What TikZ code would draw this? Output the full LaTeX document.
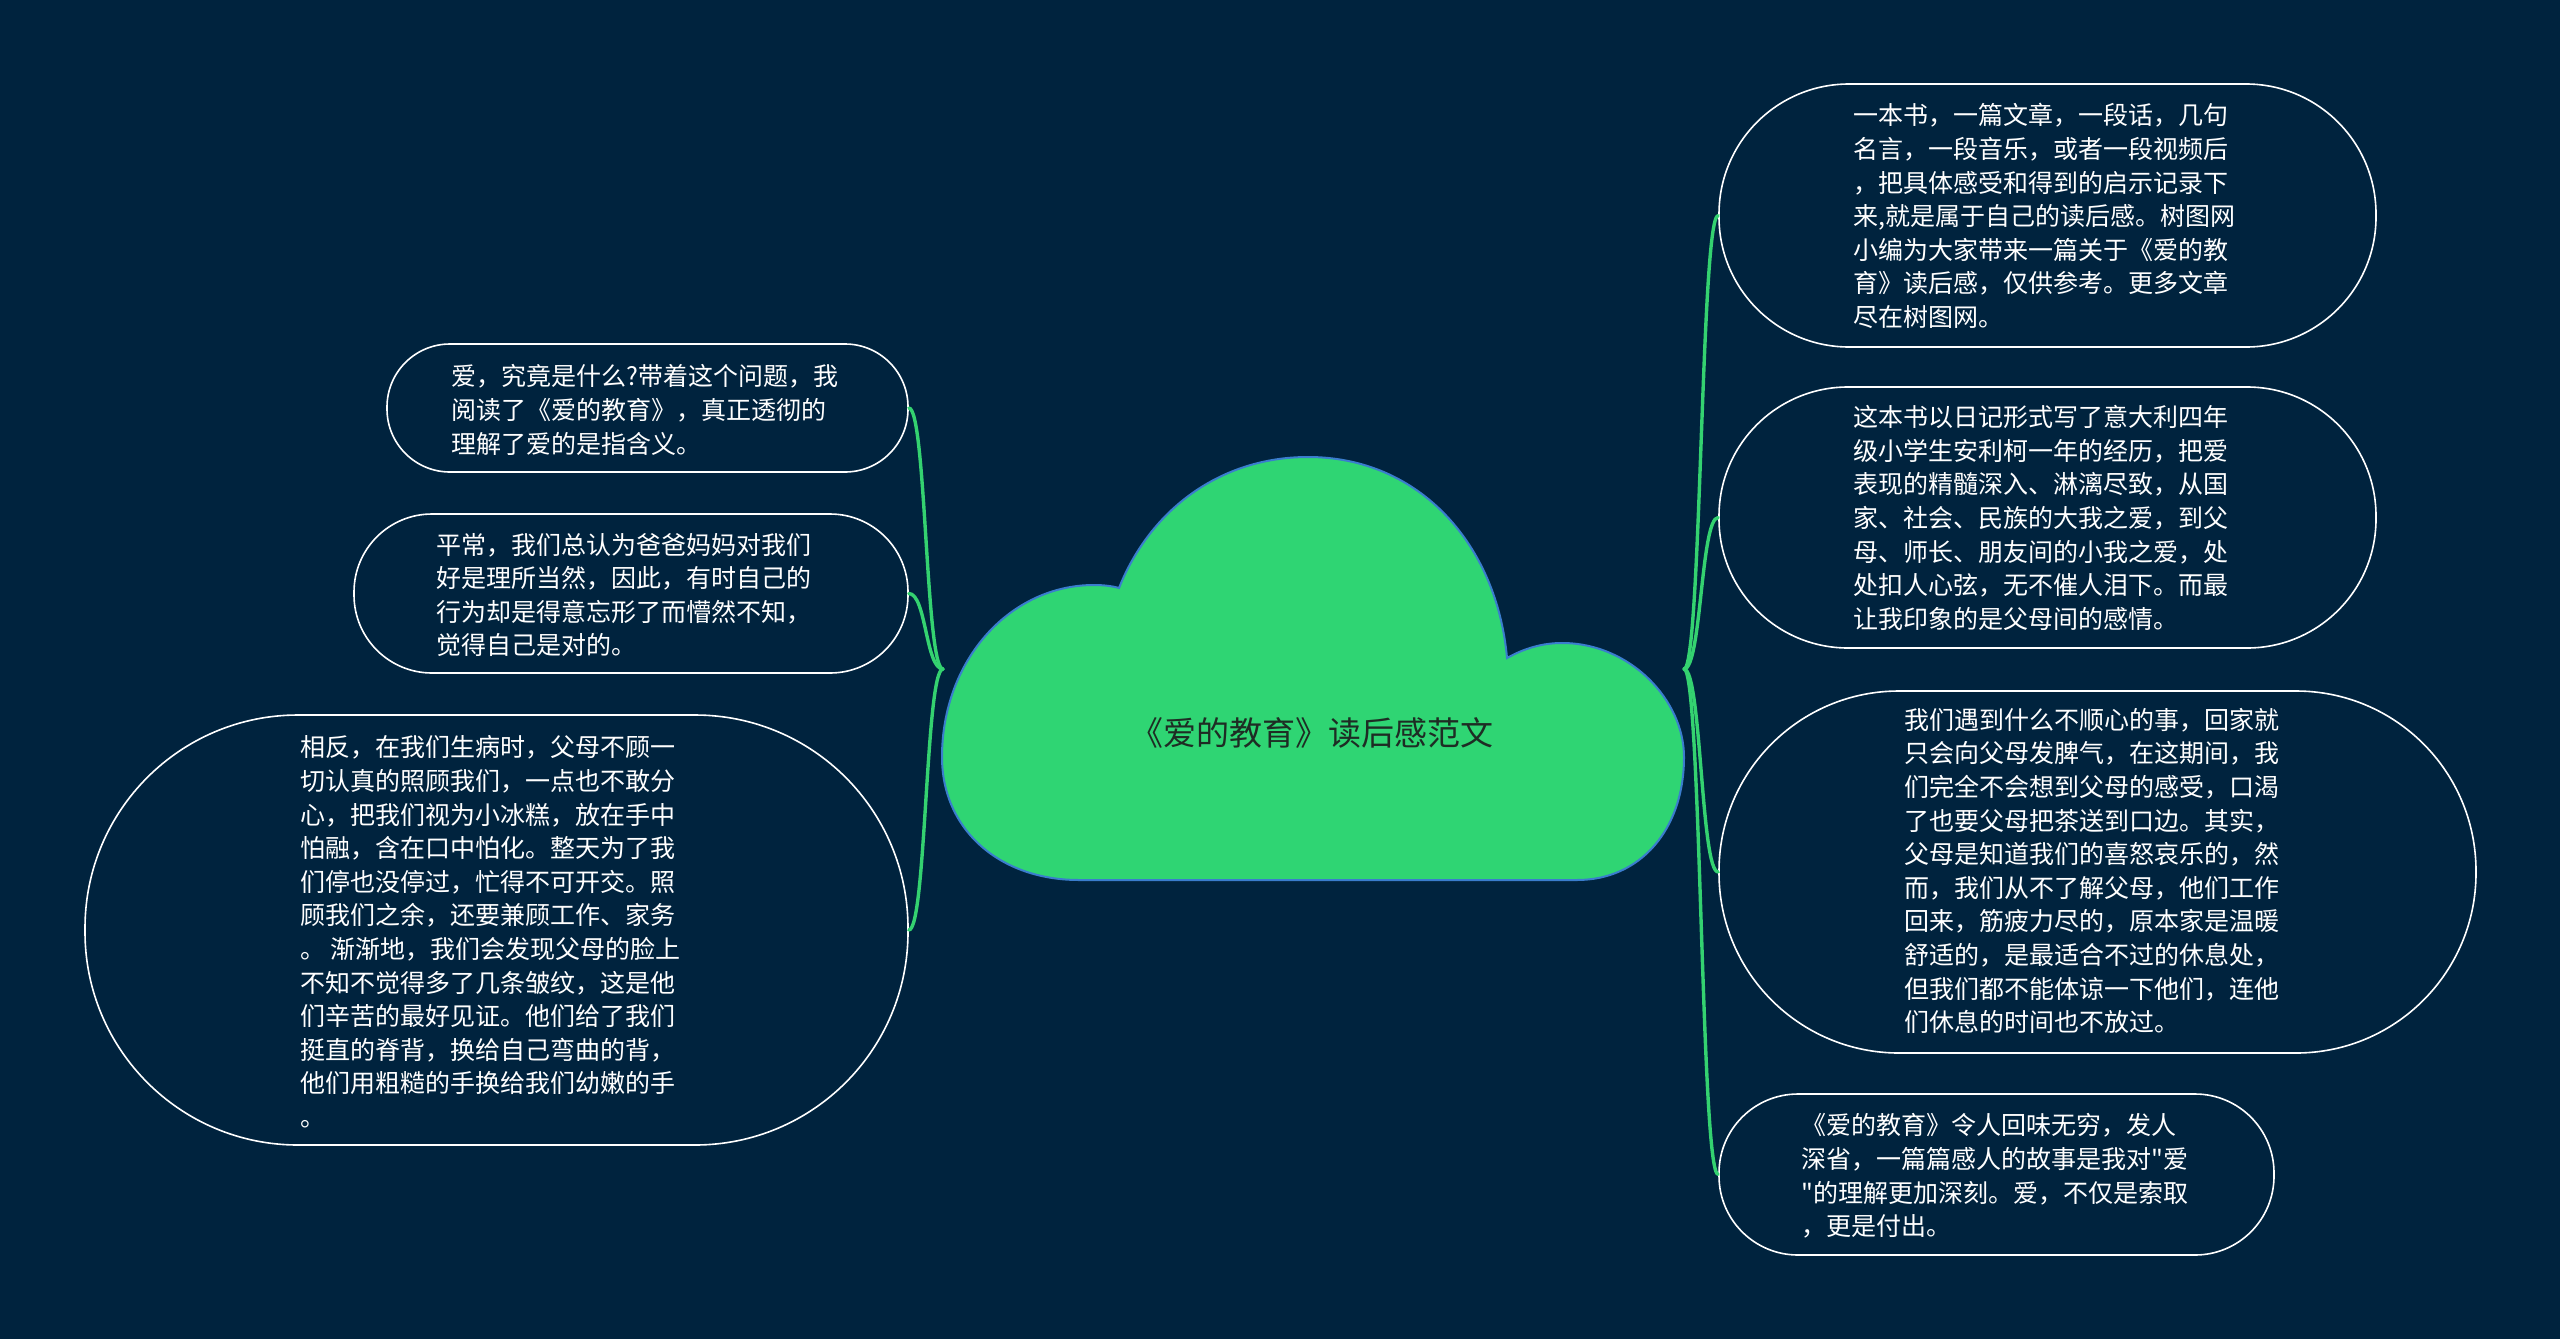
\documentclass[tikz,border=0pt]{standalone}
\usepackage{fontspec}
\newfontfamily\cjkf{Noto Sans CJK SC}
\definecolor{bg}{RGB}{0,35,62}
\definecolor{cloudfill}{RGB}{47,213,115}
\definecolor{conngreen}{RGB}{52,210,112}
\definecolor{cloudline}{RGB}{58,125,205}
\definecolor{roottxt}{RGB}{30,44,36}
\begin{document}
\begin{tikzpicture}[x=1pt,y=-1pt,
  topicbox/.style={draw=white, line width=1.6pt, rounded corners=#1, inner sep=0pt},
  txt/.style={font={\cjkf\fontsize{25}{33.6}\selectfont}, text=white, align=left, inner sep=0pt, anchor=west},
  conn/.style={draw=conngreen, line width=3.4pt, line cap=round}
]
\useasboundingbox (0,0) rectangle (2560,1339);
\fill[bg] (0,0) rectangle (2560,1339);

% helper coordinates on the cloud's bounding box
\coordinate (rootW) at (943,669);
\coordinate (rootE) at (1684,669);

% boxes
\node[topicbox=63pt, minimum width=521pt, minimum height=128pt] (b1) at (647.5,408) {};
\node[topicbox=78pt, minimum width=554pt, minimum height=159pt] (b2) at (631,593.5) {};
\node[topicbox=213pt, minimum width=823pt, minimum height=430pt] (b3) at (496.5,930) {};
\node[topicbox=130pt, minimum width=657pt, minimum height=263pt] (r1) at (2047.5,215.5) {};
\node[topicbox=129pt, minimum width=657pt, minimum height=261pt] (r2) at (2047.5,517.5) {};
\node[topicbox=180pt, minimum width=757pt, minimum height=362pt] (r3) at (2097.5,872) {};
\node[topicbox=79pt, minimum width=555pt, minimum height=161pt] (r4) at (1996.5,1174.5) {};

% connectors
\foreach \n in {b1,b2,b3}
  \draw[conn] (rootW) .. controls +(-17.5,0) and +(17.5,0) .. (\n.east);
\foreach \n in {r1,r2,r3,r4}
  \draw[conn] (rootE) .. controls +(17.5,0) and +(-17.5,0) .. (\n.west);

% cloud
\draw[fill=cloudfill, draw=cloudline, line width=2pt]
 (1079,880) .. controls (1000,880) and (942,830) .. (942,757)
 .. controls (942,660) and (1010,585) .. (1094,585)
 .. controls (1103,585) and (1112,586) .. (1119,588)
 .. controls (1150,510) and (1220,457) .. (1308,457)
 .. controls (1420,457) and (1497,545) .. (1507,658)
 .. controls (1525,648) and (1543,643) .. (1562,643)
 .. controls (1630,643) and (1684,700) .. (1684,757)
 .. controls (1684,830) and (1640,880) .. (1577,880)
 -- cycle;
\node[font={\cjkf\fontsize{33}{40}\selectfont}, text=roottxt, inner sep=0pt] (root) at (1312,733) {《爱的教育》读后感范文};

% texts
\node[txt] (t1) at (451,410) {爱，究竟是什么?带着这个问题，我\\阅读了《爱的教育》，真正透彻的\\理解了爱的是指含义。};
\node[txt] (t2) at (436,595) {平常，我们总认为爸爸妈妈对我们\\好是理所当然，因此，有时自己的\\行为却是得意忘形了而懵然不知，\\觉得自己是对的。};
\node[txt] (t3) at (300,932) {相反，在我们生病时，父母不顾一\\切认真的照顾我们，一点也不敢分\\心，把我们视为小冰糕，放在手中\\怕融，含在口中怕化。整天为了我\\们停也没停过，忙得不可开交。照\\顾我们之余，还要兼顾工作、家务\\。 渐渐地，我们会发现父母的脸上\\不知不觉得多了几条皱纹，这是他\\们辛苦的最好见证。他们给了我们\\挺直的脊背，换给自己弯曲的背，\\他们用粗糙的手换给我们幼嫩的手\\。};
\node[txt] (s1) at (1853,216) {一本书，一篇文章，一段话，几句\\名言，一段音乐，或者一段视频后\\，把具体感受和得到的启示记录下\\来,就是属于自己的读后感。树图网\\小编为大家带来一篇关于《爱的教\\育》读后感，仅供参考。更多文章\\尽在树图网。};
\node[txt] (s2) at (1853,518) {这本书以日记形式写了意大利四年\\级小学生安利柯一年的经历，把爱\\表现的精髓深入、淋漓尽致，从国\\家、社会、民族的大我之爱，到父\\母、师长、朋友间的小我之爱，处\\处扣人心弦，无不催人泪下。而最\\让我印象的是父母间的感情。};
\node[txt] (s3) at (1904,871) {我们遇到什么不顺心的事，回家就\\只会向父母发脾气，在这期间，我\\们完全不会想到父母的感受，口渴\\了也要父母把茶送到口边。其实，\\父母是知道我们的喜怒哀乐的，然\\而，我们从不了解父母，他们工作\\回来，筋疲力尽的，原本家是温暖\\舒适的，是最适合不过的休息处，\\但我们都不能体谅一下他们，连他\\们休息的时间也不放过。};
\node[txt] (s4) at (1801,1176) {《爱的教育》令人回味无穷，发人\\深省，一篇篇感人的故事是我对"爱\\"的理解更加深刻。爱，不仅是索取\\，更是付出。};
\end{tikzpicture}
\end{document}
